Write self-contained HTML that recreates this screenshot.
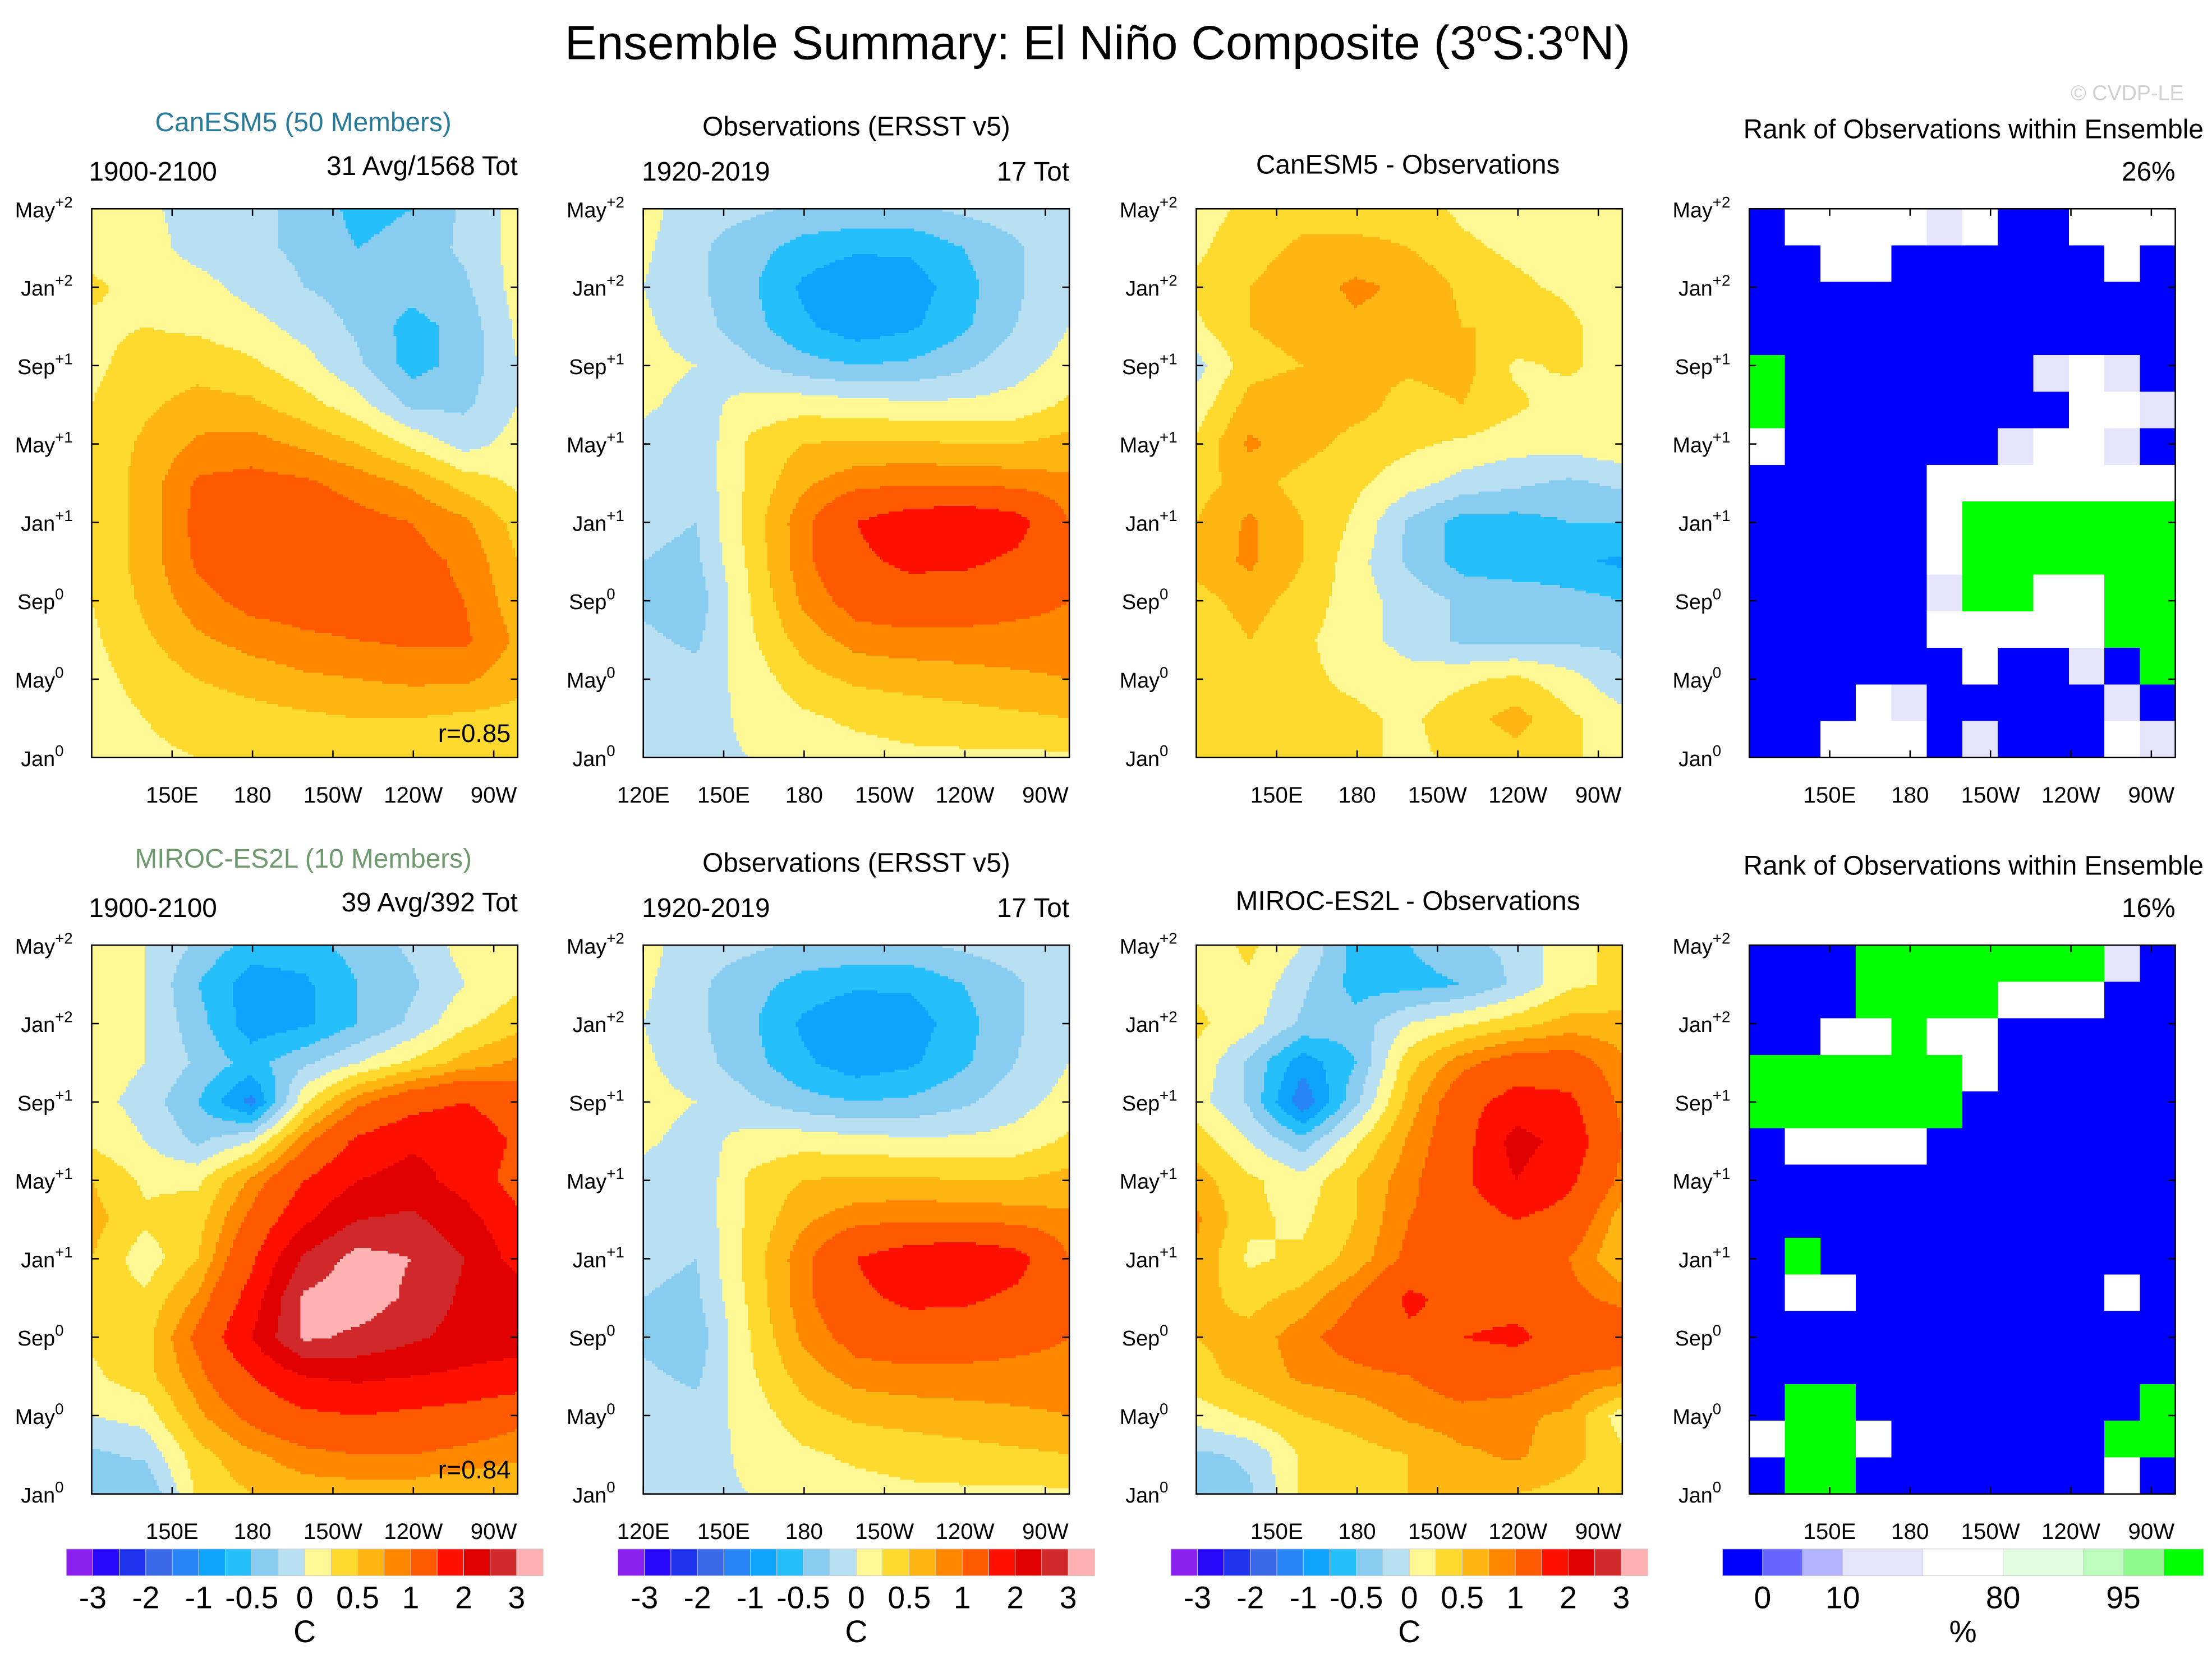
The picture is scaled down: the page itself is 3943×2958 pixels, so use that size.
<!DOCTYPE html>
<html><head><meta charset="utf-8"><style>
html,body{margin:0;padding:0;background:#fff}
svg{display:block}
text{font-family:"Liberation Sans",sans-serif}
</style></head><body>
<svg id="fig" xmlns="http://www.w3.org/2000/svg" width="3943" height="2958" viewBox="0 0 1568 1176" preserveAspectRatio="none">
<rect width="1568" height="1176" fill="#fff"/>
<text x="778" y="42" font-size="34" text-anchor="middle">Ensemble Summary: El Niño Composite (3<tspan font-size="20" dy="-13">o</tspan><tspan dy="13">S:3</tspan><tspan font-size="20" dy="-13">o</tspan><tspan dy="13">N)</tspan></text>
<text x="1548" y="71" font-size="15" text-anchor="end" fill="#d0d0d0">© CVDP-LE</text>
<g id="panels"></g>
</svg>
<script>
const timeTicks=["May|+2","Jan|+2","Sep|+1","May|+1","Jan|+1","Sep|0","May|0","Jan|0"];
const lonTicks=["120E","150E","180","150W","120W","90W"];
const levels=[-3,-2.5,-2,-1.5,-1,-0.75,-0.5,-0.25,0,0.25,0.5,0.75,1,1.5,2,2.5,3];
const levelColors=["#8a20f0","#2a08fa","#1f33ef","#3a68e6","#2785f8","#0ea4fe","#25bffc","#88ccef","#b8e0f2","#fff894","#fed92e","#ffb612","#ff8700","#ff5a00","#ff1000","#e00000","#d1282c","#ffb0b0"];
const cbLabels=["-3","-2","-1","-0.5","0","0.5","1","2","3"];
const canesm=[
[0.1,0.05,-0.1,-0.2,-0.3,-0.6,-0.5,-0.2,0.1],
[0.15,0.1,-0.1,-0.2,-0.3,-0.5,-0.4,-0.2,0.1],
[0.3,0.15,0.1,-0.1,-0.25,-0.35,-0.4,-0.3,0.1],
[0.2,0.25,0.2,0.1,-0.1,-0.3,-0.6,-0.4,0.05],
[0.2,0.35,0.4,0.3,0.1,-0.2,-0.6,-0.4,0.0],
[0.25,0.45,0.6,0.55,0.35,0.1,-0.3,-0.3,0.0],
[0.3,0.55,0.8,0.85,0.7,0.5,0.2,-0.1,0.1],
[0.3,0.6,1.05,1.1,1.05,0.9,0.7,0.4,0.2],
[0.3,0.6,1.1,1.15,1.15,1.1,1.0,0.8,0.4],
[0.3,0.6,1.05,1.2,1.2,1.15,1.1,0.95,0.5],
[0.25,0.55,0.9,1.1,1.15,1.15,1.1,1.0,0.6],
[0.2,0.45,0.7,0.85,0.95,1.0,1.05,1.05,0.7],
[0.15,0.35,0.5,0.6,0.7,0.75,0.8,0.8,0.6],
[0.1,0.25,0.35,0.4,0.45,0.5,0.5,0.45,0.4],
[0.05,0.2,0.25,0.3,0.3,0.35,0.3,0.3,0.25]];
const obs=[
[0.1,-0.15,-0.2,-0.3,-0.3,-0.3,-0.2,-0.1,0.0],
[0.05,-0.2,-0.4,-0.6,-0.7,-0.7,-0.5,-0.3,0.0],
[0.0,-0.2,-0.45,-0.8,-1.0,-0.9,-0.6,-0.3,0.0],
[0.05,-0.15,-0.4,-0.7,-0.9,-0.8,-0.55,-0.25,0.0],
[0.1,0.0,-0.2,-0.4,-0.5,-0.45,-0.3,-0.1,0.1],
[0.05,-0.1,0.1,0.15,0.1,0.05,0.05,0.1,0.3],
[-0.1,-0.2,0.3,0.5,0.55,0.55,0.5,0.5,0.6],
[-0.15,-0.2,0.3,0.7,0.9,0.95,0.95,0.9,0.8],
[-0.2,-0.25,0.35,0.9,1.5,1.8,1.9,1.7,1.0],
[-0.25,-0.3,0.3,0.9,1.4,1.6,1.6,1.4,1.0],
[-0.3,-0.4,0.25,0.8,1.15,1.25,1.2,1.1,1.0],
[-0.2,-0.3,0.2,0.6,0.85,0.9,0.9,0.9,0.9],
[-0.15,-0.15,0.1,0.4,0.55,0.6,0.65,0.7,0.75],
[-0.2,-0.1,0.05,0.2,0.3,0.35,0.4,0.45,0.5],
[-0.2,-0.05,0.0,0.1,0.15,0.2,0.2,0.2,0.2]];
const miroc=[
[0.1,0.0,-0.3,-0.6,-0.6,-0.4,-0.2,0.1,0.1],
[0.15,0.0,-0.5,-0.9,-0.8,-0.5,-0.3,0.0,0.2],
[0.2,0.0,-0.4,-0.9,-0.8,-0.5,-0.2,0.2,0.4],
[0.15,0.0,-0.3,-0.6,-0.3,0.0,0.3,0.6,0.8],
[0.1,-0.1,-0.5,-1.1,0.2,0.9,1.3,1.5,1.2],
[0.2,0.0,-0.3,0.0,0.9,1.6,1.9,1.9,1.4],
[0.5,0.2,0.2,0.8,1.5,2.0,2.2,1.8,1.3],
[0.6,0.3,0.4,1.1,1.9,2.5,2.6,2.2,1.6],
[0.5,0.1,0.5,1.4,2.6,3.2,3.0,2.5,1.8],
[0.4,0.3,0.8,1.7,3.1,3.3,2.9,2.4,2.3],
[0.3,0.4,1.1,2.0,3.1,2.9,2.6,2.3,2.2],
[0.2,0.4,0.9,1.5,2.0,2.1,2.0,1.9,1.8],
[0.0,0.1,0.7,1.1,1.4,1.5,1.4,1.3,1.1],
[-0.3,-0.2,0.4,0.7,0.9,1.0,1.0,0.9,0.8],
[-0.4,-0.5,0.3,0.5,0.6,0.6,0.6,0.5,0.5]];
const diff1=[
[0.15,0.3,0.4,0.3,0.35,0.2,0.1,0.1,0.1],
[0.2,0.4,0.55,0.6,0.5,0.3,0.2,0.15,0.1],
[0.3,0.5,0.65,0.8,0.7,0.45,0.3,0.2,0.1],
[0.2,0.5,0.6,0.7,0.65,0.5,0.5,0.3,0.1],
[-0.1,0.4,0.5,0.55,0.55,0.6,0.2,0.3,0.1],
[0.1,0.6,0.7,0.6,0.4,0.5,0.3,0.1,0.2],
[0.3,0.8,0.6,0.4,0.3,0.2,0.1,0.1,0.2],
[0.4,0.6,0.4,0.3,0.1,-0.1,-0.2,-0.3,-0.2],
[0.5,0.8,0.5,0.2,-0.3,-0.6,-0.6,-0.5,-0.5],
[0.6,0.8,0.5,0.1,-0.3,-0.6,-0.7,-0.7,-0.8],
[0.4,0.6,0.4,0.1,-0.1,-0.3,-0.3,-0.4,-0.5],
[0.3,0.5,0.3,0.1,-0.1,-0.3,-0.3,-0.3,-0.3],
[0.3,0.5,0.3,0.2,0.1,0.2,0.3,0.1,-0.2],
[0.3,0.4,0.3,0.3,0.2,0.4,0.6,0.3,0.1],
[0.3,0.4,0.3,0.3,0.2,0.3,0.4,0.3,0.1]];
const diff2=[
[0.1,0.3,0.0,-0.6,-0.5,-0.3,-0.2,0.2,0.3],
[0.2,0.2,-0.2,-0.6,-0.6,-0.5,-0.2,0.2,0.3],
[0.3,0.1,-0.3,-0.4,0.0,0.2,0.4,0.6,0.6],
[0.2,-0.3,-0.9,-0.5,0.4,0.9,1.2,1.2,0.8],
[0.1,-0.3,-1.2,-0.3,0.6,1.3,1.7,1.6,0.9],
[0.4,0.0,-0.4,0.2,0.8,1.3,2.2,1.8,1.0],
[0.6,0.3,0.1,0.5,0.9,1.4,2.0,1.6,0.9],
[0.8,0.3,0.2,0.5,1.0,1.2,1.5,1.3,0.6],
[0.7,0.2,0.3,0.6,1.1,1.3,1.2,1.0,0.5],
[0.6,0.4,0.6,1.0,1.6,1.3,1.3,1.1,0.9],
[0.5,0.6,0.9,1.2,1.4,1.5,1.6,1.3,1.3],
[0.4,0.6,0.8,0.9,1.0,1.2,1.2,1.0,0.9],
[0.1,0.3,0.5,0.6,0.8,0.9,0.8,0.7,0.1],
[-0.3,-0.2,0.3,0.4,0.5,0.7,0.8,0.6,0.3],
[-0.5,-0.3,0.3,0.4,0.5,0.6,0.5,0.4,0.3]];
const rankLevels=[1,5,10,50,80,90,95,99];
const rankColors=["#0000ff","#6666ff","#b3b3ff","#e5e5ff","#ffffff","#e2fde2","#bdfdbd","#8efa8e","#00ff00"];
const rankLabels=["0","10","80","95"];
const rank1=[
[0,60,60,60,60,30,60,0,0,60,60,60],
[0,0,60,60,0,0,0,0,0,0,60,0],
[0,0,0,0,0,0,0,0,0,0,0,0],
[0,0,0,0,0,0,0,0,0,0,0,0],
[100,0,0,0,0,0,0,0,30,60,30,0],
[100,0,0,0,0,0,0,0,0,60,60,30],
[60,0,0,0,0,0,0,30,60,60,30,0],
[0,0,0,0,0,60,60,60,60,60,60,60],
[0,0,0,0,0,60,100,100,100,100,100,100],
[0,0,0,0,0,60,100,100,100,100,100,100],
[0,0,0,0,0,30,100,100,60,60,100,100],
[0,0,0,0,0,60,60,60,60,60,100,100],
[0,0,0,0,0,0,60,0,0,30,0,100],
[0,0,0,60,30,0,0,0,0,0,30,0],
[0,0,60,60,60,0,30,0,0,0,60,30]];
const rank2=[
[0,0,0,100,100,100,100,100,100,100,30,0],
[0,0,0,100,100,100,100,60,60,60,0,0],
[0,0,60,60,100,60,60,0,0,0,0,0],
[100,100,100,100,100,100,60,0,0,0,0,0],
[100,100,100,100,100,100,0,0,0,0,0,0],
[0,60,60,60,60,0,0,0,0,0,0,0],
[0,0,0,0,0,0,0,0,0,0,0,0],
[0,0,0,0,0,0,0,0,0,0,0,0],
[0,100,0,0,0,0,0,0,0,0,0,0],
[0,60,60,0,0,0,0,0,0,0,60,0],
[0,0,0,0,0,0,0,0,0,0,0,0],
[0,0,0,0,0,0,0,0,0,0,0,0],
[0,100,100,0,0,0,0,0,0,0,0,100],
[60,100,100,60,0,0,0,0,0,0,100,100],
[0,100,100,0,0,0,0,0,0,0,60,0]];

const NS="http://www.w3.org/2000/svg";
const root=document.getElementById('panels');
const PW=302,PH=389;
function el(tag,attrs,parent){const e=document.createElementNS(NS,tag);for(const k in attrs)e.setAttribute(k,attrs[k]);(parent||root).appendChild(e);return e;}
function txt(s,x,y,size,anchor,fill,parent){const t=el('text',{x:x,y:y,'font-size':size,'text-anchor':anchor||'start',fill:fill||'#000'},parent);t.textContent=s;return t;}
function levelIndex(v,lv){let i=0;while(i<lv.length&&v>=lv[i])i++;return i;}
function xScale(px,fx){return px+fx*PW;}
function yScale(py,fy){return py+fy*PH;}

function drawField(px,py,grid,name){
  const g=el('g',{'shape-rendering':'crispEdges'});
  
  
  const rows=grid.length,cols=grid[0].length,NX=151,NY=194;
  for(let iy=0;iy<NY;iy++){
    const fy=(iy+0.5)/NY*(rows-1);const r0=Math.min(Math.floor(fy),rows-2);const ty=fy-r0;
    let runStart=0,runC=-1;
    for(let ix=0;ix<=NX;ix++){
      let c=-2;
      if(ix<NX){
        const fx=(ix+0.5)/NX*(cols-1);const c0=Math.min(Math.floor(fx),cols-2);const tx=fx-c0;
        const v=(grid[r0][c0]*(1-tx)+grid[r0][c0+1]*tx)*(1-ty)+(grid[r0+1][c0]*(1-tx)+grid[r0+1][c0+1]*tx)*ty;
        c=levelIndex(v,levels);
      }
      if(c!==runC){
        if(runC>=0){
          const cell=el('rect',{x:xScale(px,runStart/NX),y:yScale(py,iy/NY),width:(ix-runStart)/NX*PW+0.3,height:PH/NY+0.3,fill:levelColors[runC]},g);
          
          
        }
        runStart=ix;runC=c;
      }
    }
  }
}
function drawRank(px,py,grid,name){
  const g=el('g',{'shape-rendering':'crispEdges'});
  
  
  const rows=grid.length,cols=grid[0].length;
  grid.forEach((row,i)=>row.forEach((v,j)=>{
    const cell=el('rect',{x:xScale(px,j/cols),y:yScale(py,i/rows),width:PW/cols+0.3,height:PH/rows+0.3,fill:rankColors[levelIndex(v,rankLevels)]},g);
    
    
  }));
}
function drawAxes(px,py,showFirstLon,nameP){
  const g=el('g',{});
  
  
  el('rect',{x:px,y:py,width:PW,height:PH,fill:'none',stroke:'#000','stroke-width':1},g);
  timeTicks.forEach((t,i)=>{
    const y=yScale(py,i/(timeTicks.length-1));
    el('line',{x1:px,x2:px+5,y1:y,y2:y,stroke:'#000','stroke-width':1},g);
    el('line',{x1:px+PW,x2:px+PW-5,y1:y,y2:y,stroke:'#000','stroke-width':1},g);
    const [m,s]=t.split('|');
    const tt=el('text',{x:px-26,y:y+6,'font-size':15,'text-anchor':'end'},g);
    tt.textContent=m;
    
    
    const sp=txt(s,px-26,y-1,11,'start','#000',g);
    
    
  });
  lonTicks.forEach((l,i)=>{
    if(i===0&&!showFirstLon)return;
    const x=px+i*57;
    el('line',{x1:x,x2:x,y1:py+PH,y2:py+PH-5,stroke:'#000','stroke-width':1},g);
    el('line',{x1:x,x2:x,y1:py,y2:py+5,stroke:'#000','stroke-width':1},g);
    const lt=txt(l,x,py+PH+32,16,'middle','#000',g);
    
    
  });
}
function colorbar(x0,y0,w,colors,units,labels,labelIdx,unitLabel,name){
  const g=el('g',{});
  
  
  const total=units.reduce((a,b)=>a+b,0);let acc=0;const edges=[x0];
  colors.forEach((c,i)=>{
    const x=x0+acc/total*w;acc+=units[i];const x2=x0+acc/total*w;edges.push(x2);
    const b=el('rect',{x:x,y:y0,width:x2-x,height:19,fill:c,stroke:'#ccc','stroke-width':0.4},g);
    
    
  });
  labels.forEach((l,i)=>{
    const t=txt(l,edges[labelIdx[i]],y0+42,22,'middle','#000',g);
    
    
  });
  const u=txt(unitLabel,x0+w/2,y0+66,22,'middle','#000',g);
  
  
}
const colX=[65,456,848,1240];
const rowY=[148,670];
const models=[{name:'CanESM5 (50 Members)',short:'CanESM5',color:'#2a7a9a',avg:'31 Avg/1568 Tot',r:'r=0.85',grid:canesm,diff:diff1,rank:rank1,pct:'26%'},
              {name:'MIROC-ES2L (10 Members)',short:'MIROC-ES2L',color:'#6f9a6f',avg:'39 Avg/392 Tot',r:'r=0.84',grid:miroc,diff:diff2,rank:rank2,pct:'16%'}];
models.forEach((m,ri)=>{
  const py=rowY[ri],off=py-148;
  drawField(colX[0],py,m.grid,'model-composite-'+ri);
  drawField(colX[1],py,obs,'obs-composite-'+ri);
  drawField(colX[2],py,m.diff,'difference-'+ri);
  drawRank(colX[3],py,m.rank,'rank-map-'+ri);
  drawAxes(colX[0],py,false,'model-'+ri);
  drawAxes(colX[1],py,true,'obs-'+ri);
  drawAxes(colX[2],py,false,'diff-'+ri);
  drawAxes(colX[3],py,false,'rank-'+ri);
  let t;
  t=txt(m.name,215,93+off,19,'middle',m.color);
  t=txt('1900-2100',63,128+off,19,'start');
  t=txt(m.avg,367,124+off,19,'end');
  t=txt(m.r,362,526+off,18,'end');
  t=txt('Observations (ERSST v5)',607,96+off,19,'middle');
  t=txt('1920-2019',455,128+off,19,'start');
  t=txt('17 Tot',758,128+off,19,'end');
  t=txt(m.short+' - Observations',998,123+off,19,'middle');
  t=txt('Rank of Observations within Ensemble',1562,98+off,19,'end');
  t=txt(m.pct,1542,128+off,19,'end');
});
const ones=levelColors.map(()=>1);
const idx=[1,3,5,7,9,11,13,15,17];
colorbar(47,1098,338,levelColors,ones,cbLabels,idx,'C','colorbar-1');
colorbar(438,1098,338,levelColors,ones,cbLabels,idx,'C','colorbar-2');
colorbar(830,1098,338,levelColors,ones,cbLabels,idx,'C','colorbar-3');
colorbar(1221,1098,341,rankColors,[1,1,1,2,2,2,1,1,1],rankLabels,[1,3,5,7],'%','rank-colorbar');
</script>
</body></html>
